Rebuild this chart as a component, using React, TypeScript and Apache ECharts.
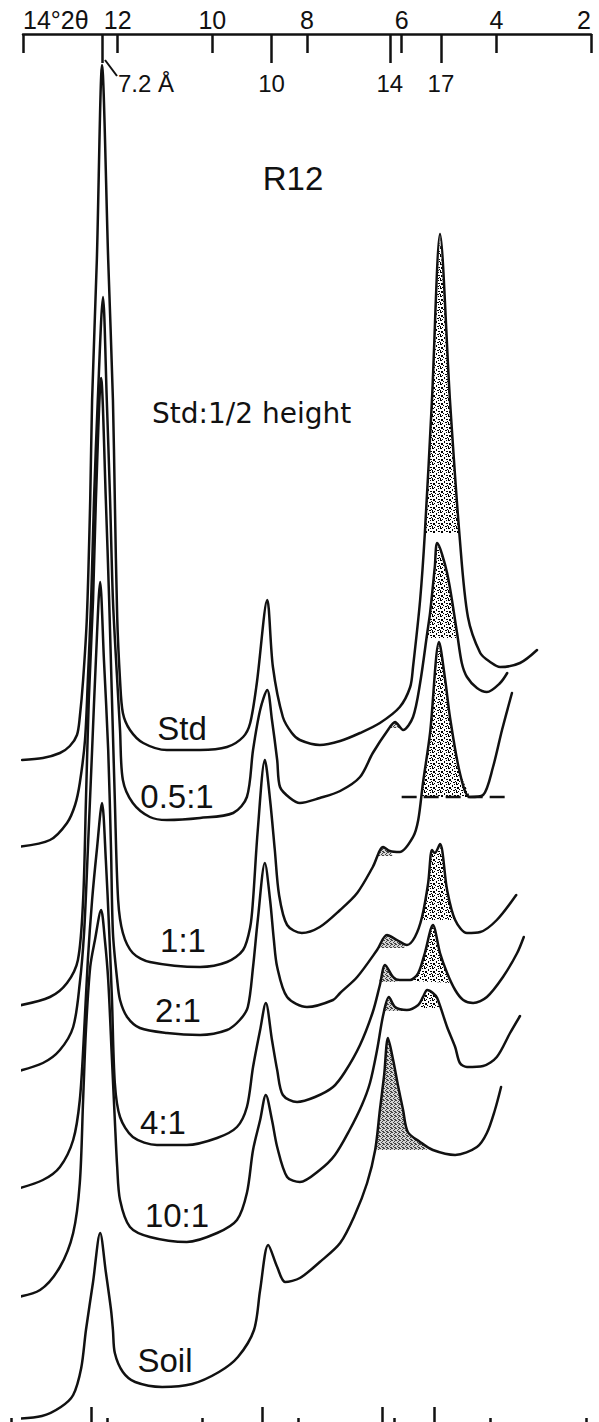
import React, { useEffect, useRef } from "react";
import * as echarts from "echarts";

// ---- axis values (degrees 2θ, CuKα) ----
const thetaMin = 2;
const thetaMax = 14;
const thetaStep = 2;
const dSpacingTheta = [12.33, 8.75, 6.25, 5.17];
const dSpacingLabels = ["7.2 Å", "10", "14", "17"];

// ---- traces: [2θ, stacked intensity (depth units, downward)] ----
const stdTrace = [
  [14.02, 760], [13.58, 758], [13.22, 753], [13.01, 746], [12.86, 735], [12.8, 717], [12.73, 680],
  [12.65, 617], [12.58, 500], [12.54, 400], [12.44, 260], [12.33, 65], [12.2, 260], [12.1, 400],
  [12.06, 500], [12.01, 617], [11.95, 680], [11.89, 713], [11.74, 730], [11.46, 743], [10.96, 750],
  [10.26, 750], [9.69, 747], [9.35, 737], [9.2, 723], [9.06, 683], [8.84, 600], [8.72, 667],
  [8.51, 717], [8.32, 733], [8.15, 740], [7.73, 745], [7.3, 741], [6.88, 733], [6.46, 723],
  [6.04, 707], [5.82, 687], [5.76, 667], [5.61, 600], [5.51, 533], [5.36, 400], [5.19, 234],
  [4.98, 400], [4.77, 540], [4.6, 617], [4.34, 653], [4.13, 662], [3.92, 667], [3.5, 663], [3.14, 650],
];
const ratio05Trace = [
  [14.11, 847], [13.43, 840], [13.07, 823], [12.9, 805], [12.8, 783], [12.69, 740], [12.63, 680],
  [12.56, 600], [12.5, 500], [12.42, 400], [12.31, 297], [12.23, 400], [12.16, 500], [12.1, 600],
  [12.01, 680], [11.95, 730], [11.89, 780], [11.68, 803], [11.32, 817], [10.96, 820], [10.26, 818],
  [9.56, 813], [9.27, 797], [9.14, 750], [8.99, 710], [8.84, 690], [8.74, 720], [8.63, 760],
  [8.57, 787], [8.36, 798], [8.15, 803], [7.73, 798], [7.3, 791], [6.88, 777], [6.61, 753],
  [6.29, 730], [6.14, 722], [5.97, 730], [5.76, 717], [5.61, 683], [5.46, 633], [5.4, 613],
  [5.3, 567], [5.25, 543], [5.04, 573], [4.83, 633], [4.73, 663], [4.62, 677], [4.41, 688],
  [4.2, 692], [3.92, 683], [3.77, 673],
];
const ratio1Trace = [
  [14.13, 1006], [13.43, 997], [13.07, 983], [12.84, 960], [12.73, 900], [12.67, 800], [12.61, 700],
  [12.52, 600], [12.46, 500], [12.35, 378], [12.25, 500], [12.18, 600], [12.12, 700], [12.06, 800],
  [11.99, 900], [11.89, 933], [11.68, 953], [11.32, 962], [10.26, 967], [9.69, 962], [9.35, 950],
  [9.2, 927], [9.14, 900], [9.04, 830], [8.89, 760], [8.78, 800], [8.68, 850], [8.59, 895],
  [8.42, 925], [8.11, 933], [7.73, 927], [7.3, 910], [6.94, 893], [6.61, 867], [6.39, 847],
  [6.25, 851], [6.04, 852], [5.76, 837], [5.65, 820], [5.55, 783], [5.4, 733], [5.21, 642],
  [5.08, 680], [4.98, 717], [4.77, 773], [4.56, 797], [4.28, 795], [4.07, 767], [3.88, 730], [3.67, 693],
];
const ratio2Trace = [
  [14.17, 1072], [13.58, 1063], [13.22, 1050], [12.94, 1027], [12.8, 983], [12.71, 933], [12.63, 850],
  [12.54, 750], [12.46, 660], [12.37, 582], [12.29, 660], [12.2, 750], [12.14, 850], [12.1, 933],
  [12.01, 980], [11.95, 1000], [11.8, 1017], [11.53, 1028], [10.96, 1033], [10.26, 1035], [9.69, 1030],
  [9.42, 1020], [9.25, 1007], [9.14, 967], [9.04, 920], [8.89, 863], [8.78, 900], [8.7, 940],
  [8.63, 967], [8.42, 997], [8.0, 1007], [7.45, 1000], [7.3, 993], [6.94, 977], [6.52, 950],
  [6.31, 935], [6.1, 940], [5.89, 945], [5.72, 937], [5.57, 917], [5.44, 883], [5.36, 850],
  [5.3, 853], [5.19, 844], [5.04, 890], [4.87, 920], [4.62, 933], [4.34, 932], [3.99, 920], [3.58, 895],
];
const ratio4Trace = [
  [14.21, 1190], [13.58, 1180], [13.22, 1167], [12.94, 1140], [12.8, 1100], [12.71, 1033], [12.63, 960],
  [12.54, 900], [12.44, 850], [12.33, 803], [12.25, 860], [12.18, 930], [12.12, 1000], [12.06, 1083],
  [11.95, 1117], [11.68, 1137], [11.17, 1145], [10.54, 1145], [9.9, 1138], [9.48, 1127], [9.27, 1107],
  [9.14, 1067], [8.99, 1030], [8.87, 1003], [8.74, 1040], [8.63, 1070], [8.51, 1095], [8.21, 1102],
  [7.83, 1097], [7.45, 1087], [7.2, 1072], [6.88, 1045], [6.61, 1012], [6.46, 985], [6.35, 965],
  [6.18, 977], [6.04, 980], [5.82, 980], [5.65, 973], [5.51, 953], [5.34, 925], [5.19, 953],
  [5.04, 973], [4.87, 990], [4.7, 1000], [4.49, 1003], [4.2, 997], [3.86, 977], [3.56, 953], [3.42, 937],
];
const ratio10Trace = [
  [14.23, 1298], [13.64, 1290], [13.22, 1267], [12.94, 1233], [12.8, 1183], [12.73, 1100], [12.67, 1030],
  [12.58, 967], [12.48, 940], [12.35, 910], [12.27, 940], [12.2, 980], [12.12, 1060], [12.06, 1120],
  [12.01, 1167], [11.95, 1200], [11.74, 1227], [11.32, 1237], [10.54, 1242], [9.9, 1233], [9.48, 1220],
  [9.27, 1193], [9.14, 1150], [8.99, 1120], [8.87, 1095], [8.74, 1120], [8.63, 1147], [8.42, 1177],
  [8.15, 1182], [7.73, 1170], [7.41, 1155], [7.1, 1130], [6.84, 1105], [6.67, 1083], [6.52, 1050],
  [6.39, 1015], [6.27, 997], [6.14, 1007], [5.89, 1010], [5.65, 1005], [5.55, 997], [5.46, 990],
  [5.34, 993], [5.25, 998], [5.04, 1027], [4.87, 1047], [4.77, 1063], [4.62, 1067], [4.28, 1066],
  [3.99, 1057], [3.71, 1033], [3.5, 1016],
];
const soilTrace = [
  [14.25, 1419], [13.6, 1416], [13.2, 1407], [12.94, 1395], [12.77, 1368], [12.67, 1330], [12.52, 1282],
  [12.37, 1233], [12.25, 1272], [12.14, 1310], [12.1, 1330], [12.06, 1353], [11.89, 1372],
  [11.63, 1382], [11.06, 1387], [10.43, 1384], [9.86, 1372], [9.46, 1357], [9.12, 1330], [8.99, 1290],
  [8.82, 1245], [8.63, 1267], [8.46, 1282], [8.15, 1278], [7.73, 1262], [7.3, 1243], [6.99, 1215],
  [6.73, 1183], [6.56, 1150], [6.46, 1110], [6.37, 1075], [6.29, 1038], [6.18, 1060], [6.08, 1085],
  [5.97, 1110], [5.87, 1132], [5.61, 1142], [5.34, 1150], [4.87, 1155], [4.41, 1147], [4.2, 1133],
  [4.03, 1110], [3.9, 1087],
];

const traces = [stdTrace, ratio05Trace, ratio1Trace, ratio2Trace, ratio4Trace, ratio10Trace, soilTrace];
const traceNames = ["Std", "0.5:1", "1:1", "2:1", "4:1", "10:1", "Soil"];

// ---- shaded peak areas ----
const peak17Areas = [
  [[5.51, 533], [5.36, 400], [5.19, 234], [4.98, 400], [4.78, 533]],
  [[5.47, 638], [5.46, 633], [5.4, 613], [5.3, 567], [5.25, 543], [5.04, 573], [4.83, 633], [4.81, 638]],
  [[5.59, 797], [5.55, 783], [5.4, 733], [5.21, 642], [5.08, 680], [4.98, 717], [4.77, 773], [4.56, 797]],
  [[5.59, 920], [5.57, 917], [5.44, 883], [5.36, 850], [5.3, 853], [5.19, 844], [5.04, 890], [4.87, 920]],
  [[5.76, 981], [5.65, 973], [5.51, 953], [5.34, 925], [5.19, 953], [5.04, 973], [4.94, 983]],
  [[5.63, 1008], [5.55, 997], [5.46, 990], [5.34, 993], [5.25, 998], [5.19, 1008]],
];
const peak14Areas = [
  [[6.25, 728], [6.14, 722], [6.04, 728]],
  [[6.52, 856], [6.39, 847], [6.25, 851], [6.18, 856]],
  [[6.5, 948], [6.31, 935], [6.1, 940], [5.93, 944], [5.93, 948]],
  [[6.48, 982], [6.35, 965], [6.18, 977], [6.08, 980], [6.08, 982]],
  [[6.4, 1011], [6.27, 997], [6.14, 1007], [5.97, 1009], [5.97, 1011]],
  [[6.56, 1150], [6.46, 1110], [6.37, 1075], [6.29, 1038], [6.18, 1060], [6.08, 1085], [5.97, 1110],
    [5.87, 1132], [5.61, 1142], [5.46, 1150]],
];
const areaBaseline = [[6.0, 797], [3.82, 797]];

const INK = "#111";
const NUM_FONT = "Liberation Sans";

function makeStipple(size: number, dots: number[][], ink: string, paper: string): HTMLCanvasElement {
  const c = document.createElement("canvas");
  c.width = size;
  c.height = size;
  const ctx = c.getContext("2d")!;
  ctx.fillStyle = paper;
  ctx.fillRect(0, 0, size, size);
  ctx.fillStyle = ink;
  dots.forEach(([x, y, w, h]) => ctx.fillRect(x, y, w, h));
  return c;
}

function buildOption() {
  const coarse = makeStipple(8, [
    [0, 0, 2, 1], [4, 1, 1, 2], [6, 0, 1, 1], [1, 3, 2, 2], [6, 3, 2, 1], [3, 5, 1, 1],
    [5, 6, 2, 1], [0, 6, 1, 2], [7, 5, 1, 1], [2, 7, 1, 1],
  ], "#000", "#fff");
  const fine = makeStipple(4, [
    [0, 0, 1, 1], [2, 1, 1, 1], [1, 2, 1, 1], [3, 3, 1, 1], [2, 3, 1, 1], [3, 0, 1, 1],
  ], "#444", "#d4d4d4");

  const fillSeries = (polys: number[][][], fill: any, z: number) => ({
    type: "custom",
    xAxisIndex: 0,
    yAxisIndex: 0,
    clip: false,
    silent: true,
    z,
    data: polys.map((p) => p[0]),
    renderItem: (params: any, api: any) => ({
      type: "polygon",
      shape: { points: polys[params.dataIndex].map((pt) => api.coord(pt)) },
      style: { fill, stroke: null },
    }),
  });

  const lineSeries = traces.map((data, i) => ({
    type: "line",
    name: traceNames[i],
    xAxisIndex: 0,
    yAxisIndex: 0,
    data,
    smooth: 0.3,
    symbol: "none",
    clip: false,
    z: 3,
    lineStyle: { color: INK, width: 2.5, cap: "round", join: "round" },
  }));

  const tickStyle = { color: INK, width: 2.5 };
  const baseX = { type: "value", min: thetaMin, max: thetaMax, inverse: true, splitLine: { show: false } };

  const labels = [
    [182, 728], [177, 796], [183, 940], [178, 1010], [163, 1122], [177, 1215], [165, 1360],
  ];

  return {
    animation: false,
    backgroundColor: "#fff",
    grid: [
      { left: 23, right: 8, top: 0, bottom: 0 },
      { left: 23, right: 8, top: 34, height: 1 },
      { left: 11, right: 13, bottom: 0, height: 1 },
    ],
    xAxis: [
      { ...baseX, gridIndex: 0, show: false },
      {
        ...baseX,
        gridIndex: 1,
        interval: thetaStep,
        position: "top",
        axisLine: { show: true, onZero: false, lineStyle: tickStyle },
        axisTick: { show: true, inside: true, length: 19, lineStyle: tickStyle },
        axisLabel: {
          show: true,
          margin: 2,
          color: INK,
          fontSize: 25,
          fontFamily: NUM_FONT,
          showMinLabel: true,
          showMaxLabel: true,
          alignMinLabel: "right",
          alignMaxLabel: "left",
          formatter: (v: number) => (v === thetaMax ? "14°2θ" : String(v)),
        },
      },
      {
        ...baseX,
        gridIndex: 1,
        position: "top",
        axisLine: { show: false, onZero: false },
        axisTick: { show: true, inside: true, length: 29, lineStyle: tickStyle, customValues: dSpacingTheta },
        axisLabel: {
          show: true,
          inside: true,
          margin: 37,
          color: INK,
          fontSize: 24,
          fontFamily: NUM_FONT,
          customValues: dSpacingTheta,
          formatter: (v: number) => {
            const i = dSpacingTheta.findIndex((t) => Math.abs(t - v) < 1e-6);
            if (i === 0) return "{off|" + dSpacingLabels[0] + "}";
            return i >= 0 ? dSpacingLabels[i] : "";
          },
          rich: {
            off: { padding: [0, 0, 0, 88], fontSize: 24, fontFamily: NUM_FONT, color: INK },
          },
        },
      },
      {
        ...baseX,
        gridIndex: 2,
        interval: thetaStep,
        position: "bottom",
        axisLine: { show: false, onZero: false },
        axisTick: { show: true, inside: true, length: 4, lineStyle: tickStyle },
        axisLabel: { show: false },
      },
      {
        ...baseX,
        gridIndex: 2,
        position: "bottom",
        axisLine: { show: false, onZero: false },
        axisTick: { show: true, inside: true, length: 15, lineStyle: tickStyle, customValues: dSpacingTheta },
        axisLabel: { show: false },
      },
    ],
    yAxis: [
      { gridIndex: 0, type: "value", min: 0, max: 1422, inverse: true, show: false },
      { gridIndex: 1, type: "value", show: false },
      { gridIndex: 2, type: "value", show: false },
    ],
    series: [
      fillSeries(peak14Areas, { image: fine, repeat: "repeat" }, 1),
      fillSeries(peak17Areas, { image: coarse, repeat: "repeat" }, 1),
      ...lineSeries,
      {
        type: "line",
        xAxisIndex: 0,
        yAxisIndex: 0,
        data: areaBaseline,
        symbol: "none",
        clip: false,
        z: 3,
        lineStyle: { color: INK, width: 2.5, type: [15, 7] },
      },
    ],
    graphic: [
      {
        type: "line",
        shape: { x1: 105, y1: 60, x2: 117, y2: 76 },
        style: { stroke: INK, lineWidth: 2 },
      },
      {
        type: "text",
        x: 293,
        y: 178,
        style: { text: "R12", fontSize: 33, fontFamily: NUM_FONT, fill: INK, align: "center", verticalAlign: "middle" },
      },
      {
        type: "text",
        x: 152,
        y: 413,
        style: { text: "Std:1/2 height", fontSize: 28, fontFamily: "DejaVu Sans", fill: INK, align: "left", verticalAlign: "middle" },
      },
      {
        type: "text",
        x: 437,
        y: 777,
        style: { text: "a", fontSize: 24, fontFamily: NUM_FONT, fill: INK, align: "center", verticalAlign: "middle" },
      },
      ...traceNames.map((name, i) => ({
        type: "text",
        x: labels[i][0],
        y: labels[i][1],
        style: { text: name, fontSize: 33, fontFamily: NUM_FONT, fill: INK, align: "center", verticalAlign: "middle" },
      })),
    ],
  };
}

export default function App() {
  const ref = useRef<HTMLDivElement>(null);
  useEffect(() => {
    document.body.style.margin = "0";
    const chart = echarts.init(ref.current!, undefined, { renderer: "svg" });
    chart.setOption(buildOption() as any);
    return () => chart.dispose();
  }, []);
  return (
    <div
      ref={ref}
      style={{ position: "absolute", left: 0, top: 0, width: 599, height: 1422, background: "#fff" }}
    />
  );
}
